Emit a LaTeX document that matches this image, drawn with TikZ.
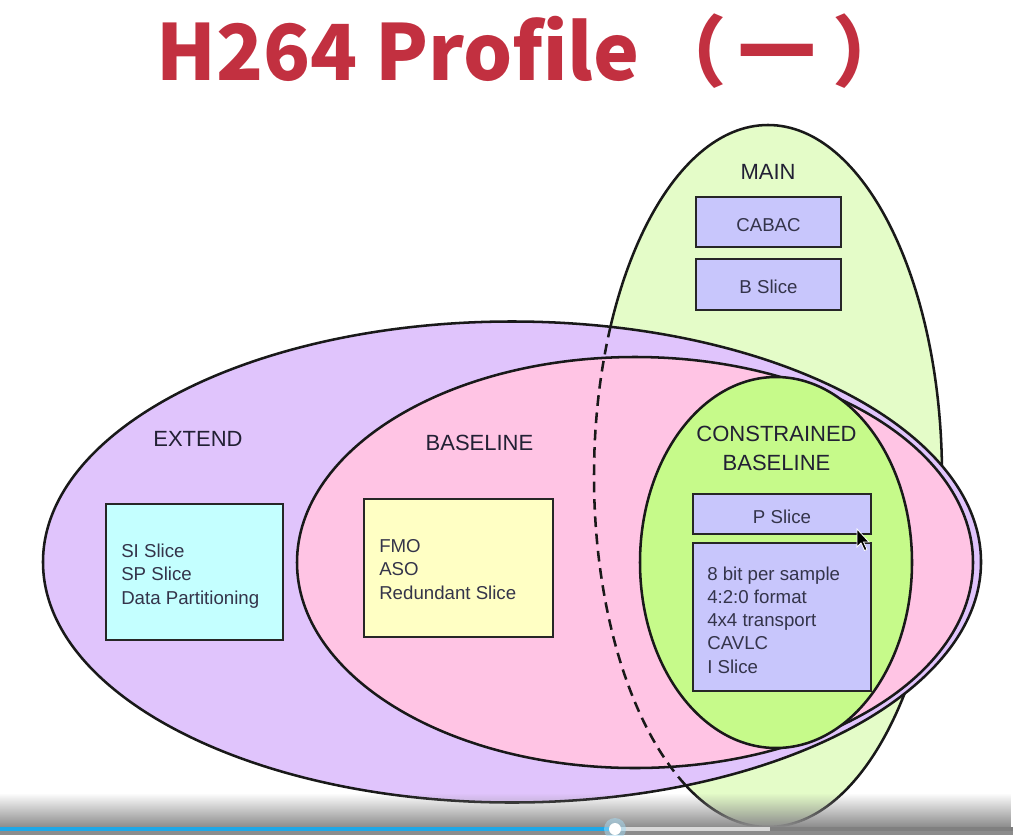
\documentclass[tikz,border=0pt]{standalone}
\usepackage{fontspec}
\setmainfont{Liberation Sans}
\newfontfamily\titlefont{Noto Sans CJK SC}
\usetikzlibrary{fadings}
\tikzfading[name=bandfade, top color=transparent!100, bottom color=transparent!0]
\definecolor{mainc}{HTML}{E4FCC8}
\definecolor{extc}{HTML}{E0C4FC}
\definecolor{basec}{HTML}{FFC4E4}
\definecolor{consc}{HTML}{C6FA8A}
\definecolor{bluebox}{HTML}{C8C6FC}
\definecolor{cyanbox}{HTML}{C4FFFF}
\definecolor{yelbox}{HTML}{FFFFC4}
\definecolor{titlec}{HTML}{C23040}
\definecolor{labelc}{HTML}{222034}
\definecolor{boxc}{HTML}{34344A}
\definecolor{barblue}{HTML}{1EA8E8}
\newdimen\pxu \pxu=0.75pt
\begin{document}
\begin{tikzpicture}[x=0.75pt,y=-0.75pt,
  region/.style={draw=black!90, line width=1.9pt},
  boxnode/.style={draw=black!85, line width=2pt, rectangle, inner sep=0pt},
  lbl/.style={font=\fontsize{16.5}{21.75}\selectfont, text=labelc, align=center, inner sep=0pt},
  boxtxt/.style={font=\fontsize{14}{17.4}\selectfont, text=boxc, align=left, inner sep=0pt},
  onetxt/.style={font=\fontsize{14}{17.4}\selectfont, text=boxc, inner sep=0pt}]
\useasboundingbox (0,0) rectangle (1013,835);
\fill[white] (0,0) rectangle (1013,835);

% title
\node[font=\titlefont\bfseries\fontsize{58}{60}\selectfont, text=titlec, anchor=base, inner sep=0pt] (title) at (533,80) {H264 Profile\hspace{7.5pt}（\hspace{9pt}一\hspace{12pt}）};

% regions
\filldraw[region, fill=mainc] (768,476) ellipse [x radius=174, y radius=351];
\filldraw[region, fill=extc] (512,562) ellipse [x radius=469, y radius=240.5];
\filldraw[region, fill=basec] (635,562.5) ellipse [x radius=338, y radius=205.5];
\filldraw[region, fill=consc] (776,562.5) ellipse [x radius=136, y radius=185.5];

% hidden part of MAIN, dashed
\begin{scope}
  \clip (512,562) ellipse [x radius=469, y radius=240.5];
  \clip (0,0) rectangle (768,835);
  \draw[black!90, line width=1.9pt, dash pattern=on 8pt off 5pt] (768,476) ellipse [x radius=174, y radius=351];
\end{scope}

% labels
\node[lbl] (mainlbl) at (768,171.5) {MAIN};
\node[lbl] (extlbl) at (198,438.7) {EXTEND};
\node[lbl] (baselbl) at (479.5,443) {BASELINE};
\node[lbl] (conslbl) at (776.5,448.3) {CONSTRAINED\\BASELINE};

% boxes
\node[boxnode, fill=bluebox, minimum width=145\pxu, minimum height=50\pxu] (cabac) at (768.5,222) {};
\node[boxnode, fill=bluebox, minimum width=145\pxu, minimum height=51\pxu] (bslice) at (768.5,284.5) {};
\node[boxnode, fill=bluebox, minimum width=178\pxu, minimum height=40\pxu] (pslice) at (782,514) {};
\node[boxnode, fill=bluebox, minimum width=178\pxu, minimum height=148\pxu] (cbfeat) at (782,617) {};
\node[boxnode, fill=cyanbox, minimum width=177\pxu, minimum height=136\pxu] (extfeat) at (194.4,572) {};
\node[boxnode, fill=yelbox, minimum width=189\pxu, minimum height=138\pxu] (basefeat) at (458.5,568) {};

% box texts
\node[onetxt] (cabactxt) at (768.5,225.5) {CABAC};
\node[onetxt] (bslicetxt) at (768.5,287) {B Slice};
\node[onetxt] (pslicetxt) at (782,516.5) {P Slice};
\node[boxtxt, anchor=west] (exttxt) at (121,576) {SI Slice\\SP Slice\\Data Partitioning};
\node[boxtxt, anchor=west] (basetxt) at (379,569.5) {FMO\\ASO\\Redundant Slice};
\node[boxtxt, anchor=west] (cbtxt) at (707,620) {8 bit per sample\\4:2:0 format\\4x4 transport\\CAVLC\\I Slice};

% mouse pointer
\filldraw[black, draw=white, line width=0.6pt] (857,529) -- (857,547) -- (861,543) -- (864.5,550.5) -- (867,549.5) -- (863.5,542) -- (869,542) -- cycle;

% video player band
\fill[black!45, path fading=bandfade] (0,793) rectangle (1013,827);
\fill[black!45] (0,826.5) rectangle (1013,835);
\fill[black!15] (615,827) rectangle (770,831);
\fill[black!50] (770,827) rectangle (1013,831);
\fill[barblue] (0,827) rectangle (615,831);
\fill[barblue!40, opacity=0.5] (615,829) circle [radius=11];
\fill[white] (615,829) circle [radius=6];
\end{tikzpicture}
\end{document}
